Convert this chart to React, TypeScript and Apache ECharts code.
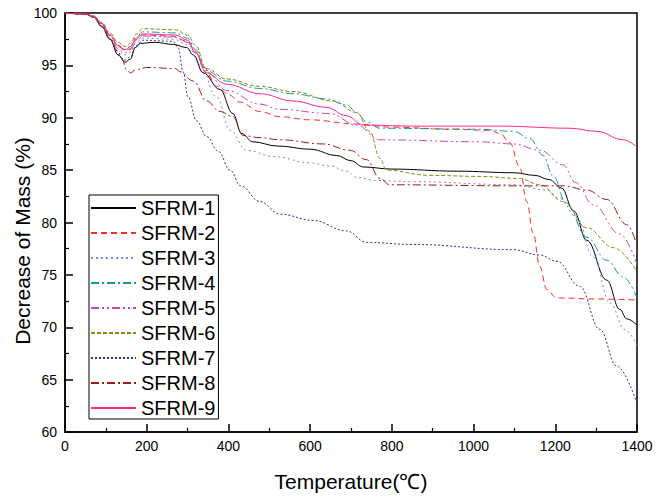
import React, { useEffect, useRef } from "react";
import * as echarts from "echarts";

const seriesNames = ["SFRM-1", "SFRM-2", "SFRM-3", "SFRM-4", "SFRM-5", "SFRM-6", "SFRM-7", "SFRM-8", "SFRM-9"];

const sfrm1 = [[0,100],[50,99.9],[70,99.6],[90,98.7],[110,97.5],[130,96.0],[147,95.3],[160,95.6],[172,96.7],[185,97.1],[220,97.2],[265,97.0],[298,96.7],[314,96.0],[338,94.3],[379,92.7],[411,90.4],[432,88.5],[460,87.7],[520,87.3],[600,87.0],[665,86.4],[700,85.9],[730,85.3],[800,85.1],[960,84.9],[1100,84.75],[1150,84.5],[1185,84.1],[1215,83.3],[1245,81.1],[1277,78.3],[1326,74.5],[1358,71.7],[1375,70.8],[1400,70.2]];
const sfrm2 = [[0,100],[50,99.9],[70,99.7],[90,99.0],[110,97.9],[130,96.8],[147,96.4],[160,96.6],[175,97.5],[190,97.9],[260,97.8],[300,97.3],[320,96.3],[340,94.8],[371,93.0],[400,92.2],[428,91.5],[477,90.6],[526,90.1],[600,89.8],[714,89.4],[800,89.1],[950,88.9],[1040,88.8],[1065,88.5],[1089,87.6],[1113,85.3],[1130,82.0],[1146,79.0],[1162,75.8],[1179,73.6],[1203,72.8],[1300,72.7],[1400,72.6]];
const sfrm3 = [[0,100],[50,99.9],[70,99.6],[90,98.8],[110,97.6],[130,96.4],[147,96.0],[160,96.3],[175,97.2],[190,97.6],[265,97.5],[300,97.0],[330,95.1],[371,92.0],[404,88.8],[444,86.9],[510,86.3],[600,85.7],[648,85.4],[690,84.9],[714,84.3],[760,84.0],[853,83.9],[1097,83.6],[1179,83.1],[1211,82.3],[1252,80.5],[1293,76.7],[1334,72.3],[1370,69.8],[1400,68.2]];
const sfrm4 = [[0,100],[50,99.9],[70,99.7],[90,99.0],[110,97.9],[130,96.9],[147,96.5],[160,96.8],[175,97.7],[190,98.2],[270,98.1],[300,97.6],[320,96.5],[345,94.5],[396,93.5],[477,92.8],[558,92.3],[640,91.8],[690,91.2],[714,90.5],[738,89.6],[771,89.0],[1016,88.9],[1097,88.7],[1138,88.0],[1170,86.4],[1195,84.4],[1228,81.7],[1277,78.6],[1326,76.4],[1366,74.8],[1400,72.8]];
const sfrm5 = [[0,100],[50,99.9],[70,99.7],[90,98.9],[110,97.8],[130,96.6],[147,96.2],[160,96.5],[175,97.4],[190,97.8],[265,97.7],[300,97.2],[320,96.2],[345,94.4],[396,92.6],[477,91.3],[526,90.8],[648,90.4],[714,89.3],[771,87.9],[1016,87.7],[1097,87.5],[1162,86.9],[1219,85.5],[1250,83.8],[1293,81.7],[1358,78.9],[1400,76.0]];
const sfrm6 = [[0,100],[50,99.9],[70,99.7],[90,99.1],[110,98.1],[130,97.2],[147,96.8],[160,97.1],[175,98.0],[190,98.5],[270,98.4],[300,97.9],[320,96.9],[345,94.7],[396,93.7],[477,93.0],[558,92.5],[656,91.6],[714,90.5],[746,88.7],[771,86.1],[787,85.0],[893,84.5],[1016,84.4],[1113,84.2],[1162,83.6],[1220,82.0],[1277,79.5],[1342,77.6],[1400,75.3]];
const sfrm7 = [[0,100],[50,99.9],[70,99.6],[90,98.7],[110,97.5],[130,96.0],[147,95.5],[160,95.8],[175,96.9],[190,97.4],[265,97.3],[277,96.7],[289,94.4],[301,92.0],[322,89.7],[347,88.2],[375,86.8],[404,85.0],[430,83.5],[477,82.0],[526,80.8],[607,80.2],[689,79.2],[738,78.1],[853,77.9],[1097,77.4],[1162,76.9],[1204,76.3],[1260,73.9],[1309,69.8],[1350,66.3],[1400,62.7]];
const sfrm8 = [[0,100],[50,99.9],[70,99.6],[90,98.8],[110,97.6],[130,96.3],[140,95.6],[150,94.6],[160,94.3],[175,94.6],[200,94.8],[270,94.7],[281,94.4],[314,93.5],[347,91.6],[379,90.6],[411,90.1],[436,88.3],[477,88.1],[526,87.9],[632,87.5],[697,86.9],[738,86.0],[771,84.2],[795,83.6],[1097,83.5],[1219,83.5],[1277,83.1],[1326,82.2],[1375,79.8],[1400,77.8]];
const sfrm9 = [[0,100],[50,99.9],[70,99.7],[90,99.0],[110,97.9],[130,96.9],[147,96.5],[160,96.8],[175,97.6],[190,98.0],[270,97.9],[300,97.4],[320,96.2],[345,94.3],[396,93.2],[477,92.3],[558,91.6],[640,91.0],[689,90.2],[730,89.3],[853,89.2],[1065,89.2],[1236,89.0],[1302,88.7],[1366,87.9],[1400,87.2]];

const seriesData = [sfrm1, sfrm2, sfrm3, sfrm4, sfrm5, sfrm6, sfrm7, sfrm8, sfrm9];
const seriesColors = ["#000000", "#ff2828", "#7888d8", "#109a9a", "#c848b8", "#8a8a18", "#303090", "#a01818", "#ff2a8a"];
const seriesDash: any[] = ["solid", [6, 4], [2, 3], [8, 3, 2, 3], [8, 3, 2, 3, 2, 3], [4, 2], [2, 2], [8, 3, 2, 3], "solid"];

const xTicks = { min: 0, max: 1400, interval: 200 };
const yTicks = { min: 60, max: 100, interval: 5 };
const xTitle = "Temperature(℃)";
const yTitle = "Decrease of Mass (%)";

const FONT = "'Liberation Sans', Arial, sans-serif";

export default function App() {
  const ref = useRef<HTMLDivElement>(null);
  useEffect(() => {
    if (!ref.current) return;
    const chart = echarts.init(ref.current, undefined, { renderer: "svg" });
    const axisCommon = {
      type: "value" as const,
      axisLine: { show: true, lineStyle: { color: "#000", width: 1.5 } },
      axisTick: { show: true, inside: true, length: 8, lineStyle: { color: "#000", width: 1.5 } },
      minorTick: { show: true, splitNumber: 2, length: 4, lineStyle: { color: "#000", width: 1.2 } },
      splitLine: { show: false },
      axisLabel: { color: "#000", fontSize: 14, fontFamily: FONT, formatter: (v: number) => String(v) },
      nameLocation: "middle" as const,
      nameTextStyle: { color: "#000", fontSize: 21, fontFamily: FONT },
    };
    chart.setOption({
      animation: false,
      backgroundColor: "#fff",
      grid: { left: 65, right: 20, top: 13, bottom: 60, show: true, borderColor: "#000", borderWidth: 1.5, backgroundColor: "transparent" },
      xAxis: {
        ...axisCommon,
        ...xTicks,
        name: xTitle,
        nameGap: 39,
        axisLabel: { ...axisCommon.axisLabel, margin: 7 },
      },
      yAxis: {
        ...axisCommon,
        ...yTicks,
        axisLabel: { ...axisCommon.axisLabel, margin: 8 },
      },
      graphic: [
        {
          type: "text",
          x: 22,
          y: 241,
          rotation: Math.PI / 2,
          style: { text: yTitle, fontSize: 21, fontFamily: FONT, fill: "#000", align: "center", verticalAlign: "middle" },
        },
      ],
      legend: {
        data: seriesNames,
        orient: "vertical",
        left: 89,
        top: 195,
        itemWidth: 45,
        itemHeight: 14,
        itemGap: 5,
        padding: [3, 3, 1, 1],
        borderColor: "#000",
        borderWidth: 1,
        backgroundColor: "#fff",
        itemStyle: { opacity: 0 },
        textStyle: { color: "#000", fontSize: 20, lineHeight: 20, fontFamily: FONT },
      },
      series: seriesNames.map((name, i) => ({
        name,
        type: "line",
        data: seriesData[i],
        symbol: "none",
        smooth: 0.4,
        smoothMonotone: "x",
        color: seriesColors[i],
        lineStyle: { color: seriesColors[i], width: 1, type: seriesDash[i] },
      })),
    });
    return () => chart.dispose();
  }, []);
  return <div ref={ref} style={{ width: 657, height: 497, position: "absolute", left: 0, top: 0 }} />;
}
